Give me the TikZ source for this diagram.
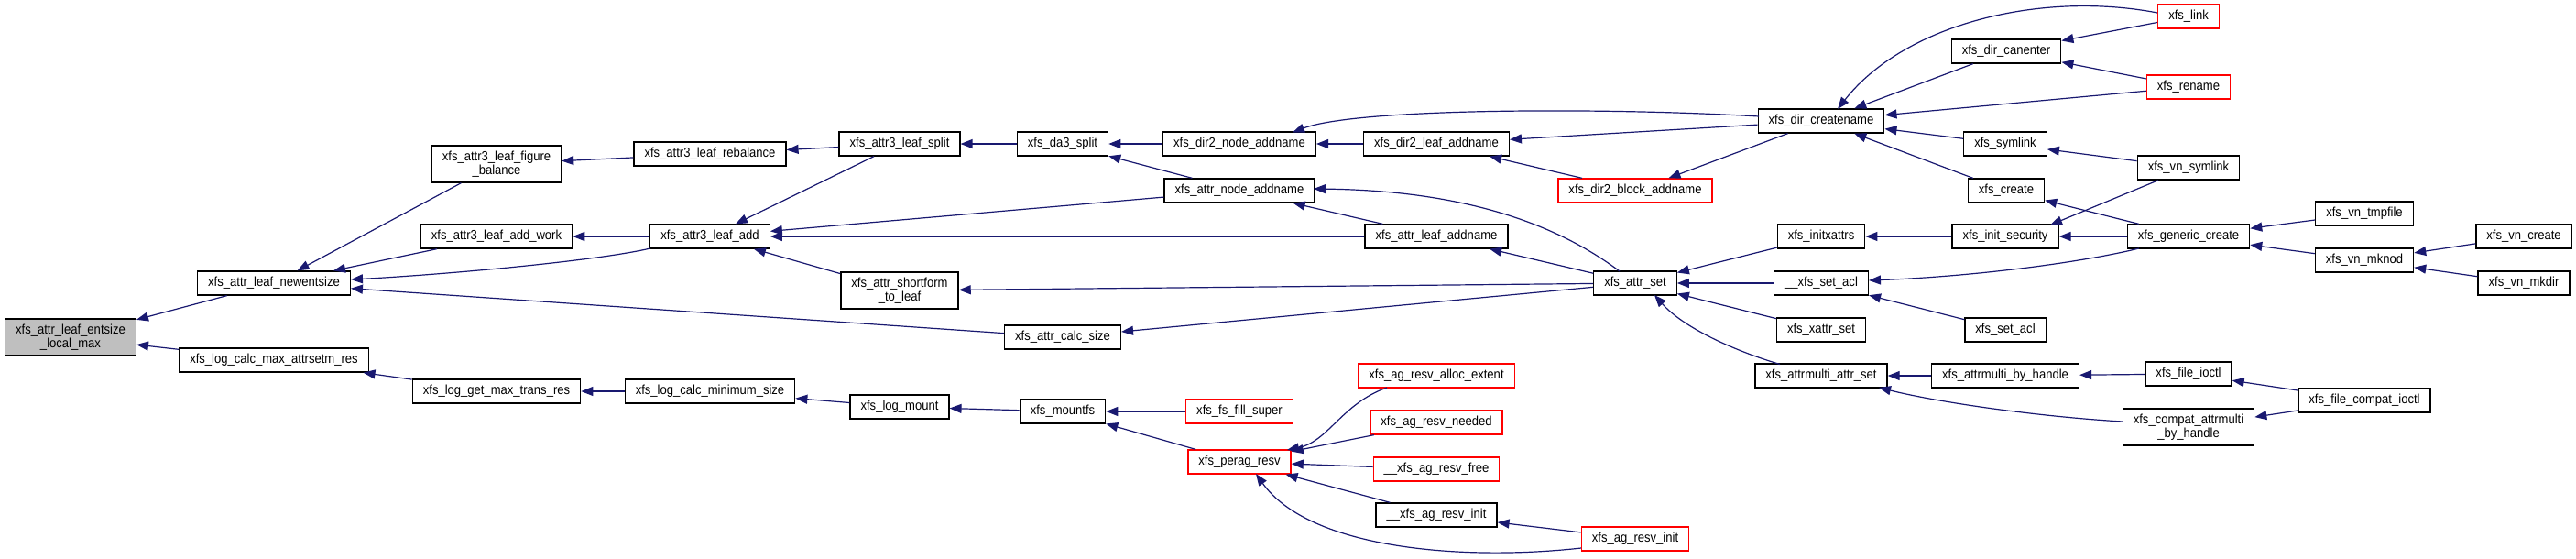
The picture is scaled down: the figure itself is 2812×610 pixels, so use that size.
\documentclass[tikz,border=0pt]{standalone}
\usepackage{fontspec}
\newfontfamily\dxfont{Liberation Sans}[FakeStretch=0.9]
\usetikzlibrary{arrows.meta,calc}
\definecolor{edgeblue}{HTML}{191970}
\definecolor{curgray}{HTML}{BFBFBF}
\begin{document}
\begin{tikzpicture}[x=1pt,y=-1pt,
  fn/.style={draw=black, line width=1.3pt, fill=white, minimum height=26pt,
    inner xsep=11.5pt, inner ysep=0pt, font=\dxfont\fontsize{14.5}{15.5}\selectfont},
  fntwo/.style={fn, minimum height=40pt, align=center},
  trunc/.style={draw=red},
  cur/.style={fill=curgray},
  callarrow/.style={draw=edgeblue, line width=1.2pt, -{Triangle[length=13pt,width=10pt]}}]
\useasboundingbox (0,0) rectangle (2812,610);

% nodes
\node[fntwo,cur] (entsize) at (77,368) {xfs\_attr\_leaf\_entsize\\\_local\_max};
\node[fn] (newentsize) at (299,309) {xfs\_attr\_leaf\_newentsize};
\node[fn] (logmaxattr) at (299,393) {xfs\_log\_calc\_max\_attrsetm\_res};
\node[fntwo] (figbal) at (542,179) {xfs\_attr3\_leaf\_figure\\\_balance};
\node[fn] (addwork) at (542,258) {xfs\_attr3\_leaf\_add\_work};
\node[fn] (logmaxtrans) at (542,427) {xfs\_log\_get\_max\_trans\_res};
\node[fn] (rebal) at (775,168) {xfs\_attr3\_leaf\_rebalance};
\node[fn] (leafadd) at (775,258) {xfs\_attr3\_leaf\_add};
\node[fn] (logminsize) at (775,427) {xfs\_log\_calc\_minimum\_size};
\node[fn] (leafsplit) at (982,157) {xfs\_attr3\_leaf\_split};
\node[fntwo] (sftoleaf) at (982,317) {xfs\_attr\_shortform\\\_to\_leaf};
\node[fn] (logmount) at (982,444) {xfs\_log\_mount};
\node[fn] (da3split) at (1160,157) {xfs\_da3\_split};
\node[fn] (calcsize) at (1160,368) {xfs\_attr\_calc\_size};
\node[fn] (mountfs) at (1160,449) {xfs\_mountfs};
\node[fn] (dirtwonode) at (1353,157) {xfs\_dir2\_node\_addname};
\node[fn] (attrnode) at (1353,208) {xfs\_attr\_node\_addname};
\node[fn,trunc] (fillsuper) at (1353,449) {xfs\_fs\_fill\_super};
\node[fn,trunc] (peragresv) at (1353,504) {xfs\_perag\_resv};
\node[fn] (dirtwoleaf) at (1568,157) {xfs\_dir2\_leaf\_addname};
\node[fn] (attrleaf) at (1568,258) {xfs\_attr\_leaf\_addname};
\node[fn,trunc] (allocext) at (1568,410) {xfs\_ag\_resv\_alloc\_extent};
\node[fn,trunc] (needed) at (1568,461) {xfs\_ag\_resv\_needed};
\node[fn,trunc] (resvfree) at (1568,512) {\_\_xfs\_ag\_resv\_free};
\node[fn] (uuresvinit) at (1568,562) {\_\_xfs\_ag\_resv\_init};
\node[fn,trunc] (dirtwoblock) at (1785,208) {xfs\_dir2\_block\_addname};
\node[fn] (attrset) at (1785,309) {xfs\_attr\_set};
\node[fn,trunc] (agresvinit) at (1785,588) {xfs\_ag\_resv\_init};
\node[fn] (createname) at (1988,132) {xfs\_dir\_createname};
\node[fn] (initxattrs) at (1988,258) {xfs\_initxattrs};
\node[fn] (uusetacl) at (1988,309) {\_\_xfs\_set\_acl};
\node[fn] (xattrset) at (1988,360) {xfs\_xattr\_set};
\node[fn] (attrmultiset) at (1988,410) {xfs\_attrmulti\_attr\_set};
\node[fn,trunc] (link) at (2389,18) {xfs\_link};
\node[fn] (canenter) at (2190,56) {xfs\_dir\_canenter};
\node[fn,trunc] (rename) at (2389,95) {xfs\_rename};
\node[fn] (symlink) at (2189,157) {xfs\_symlink};
\node[fn] (vnsymlink) at (2389,183) {xfs\_vn\_symlink};
\node[fn] (create) at (2190,208) {xfs\_create};
\node[fn] (initsec) at (2189,258) {xfs\_init\_security};
\node[fn] (setacl) at (2189,360) {xfs\_set\_acl};
\node[fn] (byhandle) at (2189,410) {xfs\_attrmulti\_by\_handle};
\node[fn] (genericcreate) at (2389,258) {xfs\_generic\_create};
\node[fn] (fileioctl) at (2389,408) {xfs\_file\_ioctl};
\node[fntwo] (compatbyhandle) at (2389,466) {xfs\_compat\_attrmulti\\\_by\_handle};
\node[fn] (vntmpfile) at (2581,233) {xfs\_vn\_tmpfile};
\node[fn] (vnmknod) at (2581,284) {xfs\_vn\_mknod};
\node[fn] (filecompat) at (2581,437) {xfs\_file\_compat\_ioctl};
\node[fn] (vncreate) at (2755,258) {xfs\_vn\_create};
\node[fn] (vnmkdir) at (2755,309) {xfs\_vn\_mkdir};

% edges (caller -> callee)
\draw[callarrow] (newentsize) -- (entsize);
\draw[callarrow] (logmaxattr) -- (entsize);
\draw[callarrow] (figbal) -- (newentsize);
\draw[callarrow] (addwork) -- (newentsize);
\draw[callarrow] ($(leafadd)+(-65,13)$) .. controls (650,285) and (480,300) .. ($(newentsize)+(84,-4)$);
\draw[callarrow] (calcsize) -- (newentsize);
\draw[callarrow] (rebal) -- (figbal);
\draw[callarrow] (leafadd) -- (addwork);
\draw[callarrow] (logmaxtrans) -- (logmaxattr);
\draw[callarrow] (logminsize) -- (logmaxtrans);
\draw[callarrow] (leafsplit) -- (rebal);
\draw[callarrow] (leafsplit) -- (leafadd);
\draw[callarrow] (attrnode) -- (leafadd);
\draw[callarrow] (attrleaf) -- (leafadd);
\draw[callarrow] (sftoleaf) -- (leafadd);
\draw[callarrow] (logmount) -- (logminsize);
\draw[callarrow] (da3split) -- (leafsplit);
\draw[callarrow] (attrset) -- (sftoleaf);
\draw[callarrow] (attrset) -- (calcsize);
\draw[callarrow] (mountfs) -- (logmount);
\draw[callarrow] (dirtwonode) -- (da3split);
\draw[callarrow] (attrnode) -- (da3split);
\draw[callarrow] (fillsuper) -- (mountfs);
\draw[callarrow] (peragresv) -- (mountfs);
\draw[callarrow] (dirtwoleaf) -- (dirtwonode);
\draw[callarrow] ($(createname)+(-68,-5)$) .. controls (1750,117) and (1480,118) .. ($(dirtwonode)+(58,-12.5)$);
\draw[callarrow] (attrleaf) -- (attrnode);
\draw[callarrow] ($(attrset)+(-17,-13)$) .. controls (1700,245) and (1600,208) .. ($(attrnode)+(81,-2)$);
\draw[callarrow] (attrset) -- (attrleaf);
\draw[callarrow] (createname) -- (dirtwoleaf);
\draw[callarrow] (dirtwoblock) -- (dirtwoleaf);
\draw[callarrow] (createname) -- (dirtwoblock);
\draw[callarrow] ($(allocext)+(-54,13)$) .. controls (1465,440) and (1450,482) .. ($(peragresv)+(52,-13)$);
\draw[callarrow] (needed) -- (peragresv);
\draw[callarrow] (resvfree) -- (peragresv);
\draw[callarrow] (uuresvinit) -- (peragresv);
\draw[callarrow] ($(agresvinit)+(-59,10)$) .. controls (1600,612) and (1430,600) .. ($(peragresv)+(18,13)$);
\draw[callarrow] (agresvinit) -- (uuresvinit);
\draw[callarrow] (initxattrs) -- (attrset);
\draw[callarrow] (uusetacl) -- (attrset);
\draw[callarrow] (xattrset) -- (attrset);
\draw[callarrow] ($(attrmultiset)+(-45,-12.5)$) .. controls (1900,385) and (1840,360) .. ($(attrset)+(21,13)$);
\draw[callarrow] ($(link)+(-34,-4)$) .. controls (2230,-10) and (2080,25) .. ($(createname)+(18,-13)$);
\draw[callarrow] (canenter) -- (createname);
\draw[callarrow] (rename) -- (createname);
\draw[callarrow] (symlink) -- (createname);
\draw[callarrow] (create) -- (createname);
\draw[callarrow] (initsec) -- (initxattrs);
\draw[callarrow] (setacl) -- (uusetacl);
\draw[callarrow] ($(genericcreate)+(-54,13)$) .. controls (2270,287) and (2150,302) .. ($(uusetacl)+(52,-3)$);
\draw[callarrow] (byhandle) -- (attrmultiset);
\draw[callarrow] ($(compatbyhandle)+(-72,-6)$) .. controls (2230,455) and (2120,440) .. ($(attrmultiset)+(63,13)$);
\draw[callarrow] (link) -- (canenter);
\draw[callarrow] (rename) -- (canenter);
\draw[callarrow] (vnsymlink) -- (symlink);
\draw[callarrow] (genericcreate) -- (create);
\draw[callarrow] (vnsymlink) -- ($(initsec)+(49,-12.5)$);
\draw[callarrow] (genericcreate) -- (initsec);
\draw[callarrow] (fileioctl) -- (byhandle);
\draw[callarrow] (filecompat) -- (fileioctl);
\draw[callarrow] (filecompat) -- (compatbyhandle);
\draw[callarrow] (vntmpfile) -- (genericcreate);
\draw[callarrow] (vnmknod) -- (genericcreate);
\draw[callarrow] (vncreate) -- (vnmknod);
\draw[callarrow] (vnmkdir) -- (vnmknod);
\end{tikzpicture}
\end{document}
